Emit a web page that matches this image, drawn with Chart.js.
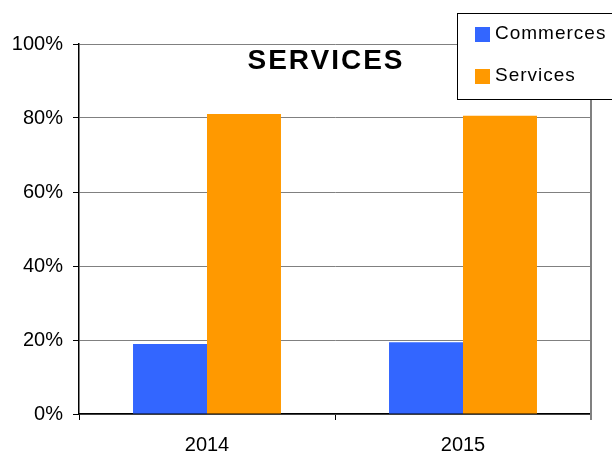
<!DOCTYPE html>
<html lang="fr">
<head>
  <meta charset="UTF-8" />
  <title>SERVICES</title>
  <script src="https://cdn.jsdelivr.net/npm/chart.js"></script>
  <style>
    body { margin: 0; background: #fff; }
    canvas { display: block; }
  </style>
</head>
<body>
  <canvas id="chart" width="612" height="455"></canvas>

  <script>
    const years = ['2014', '2015'];
    const commerces = [18.9, 19.4];
    const services = [81.1, 80.6];
    const yTicks = [0, 20, 40, 60, 80, 100];
    const chartTitle = 'SERVICES';

    const FONT = '"Liberation Sans", Arial, sans-serif';

    // title, right border and boxed legend drawn on top of the plot
    const extras = {
      id: 'extras',
      afterDraw(chart) {
        const ctx = chart.ctx;
        const a = chart.chartArea;
        ctx.save();

        ctx.strokeStyle = '#808080';
        ctx.lineWidth = 2;
        ctx.beginPath();
        ctx.moveTo(a.right, a.top);
        ctx.lineTo(a.right, a.bottom + 6);
        ctx.stroke();

        ctx.fillStyle = '#000';
        ctx.font = 'bold 28px ' + FONT;
        ctx.letterSpacing = '2px';
        ctx.textAlign = 'center';
        ctx.textBaseline = 'alphabetic';
        ctx.fillText(chartTitle, 326, 69);

        ctx.letterSpacing = '0px';
        ctx.fillStyle = '#fff';
        ctx.fillRect(457, 13, 170, 86);
        ctx.strokeStyle = '#000';
        ctx.lineWidth = 1;
        ctx.strokeRect(457.5, 13.5, 170, 86);

        ctx.font = '19px ' + FONT;
        ctx.letterSpacing = '1px';
        ctx.textAlign = 'left';
        chart.data.datasets.forEach((ds, i) => {
          const y = 27 + i * 42;
          ctx.fillStyle = ds.backgroundColor;
          ctx.fillRect(475, y, 15, 15);
          ctx.fillStyle = '#000';
          ctx.fillText(ds.label, 495, y + 12);
        });
        ctx.restore();
      }
    };

    new Chart(document.getElementById('chart').getContext('2d'), {
      type: 'bar',
      data: {
        labels: years,
        datasets: [
          { label: 'Commerces', data: commerces, backgroundColor: '#3366FF' },
          { label: 'Services', data: services, backgroundColor: '#FF9900' }
        ]
      },
      options: {
        responsive: false,
        animation: false,
        categoryPercentage: 0.578,
        barPercentage: 1,
        layout: { padding: { top: 44, right: 21, bottom: 0, left: 0 } },
        plugins: {
          legend: { display: false },
          title: { display: false },
          tooltip: { enabled: false }
        },
        scales: {
          x: {
            afterFit: s => { s.height = 41; },
            grid: {
              offset: true,
              drawOnChartArea: false,
              tickLength: 6,
              tickColor: '#000'
            },
            border: { color: '#000', width: 1.5 },
            ticks: { color: '#000', padding: 13, font: { family: FONT, size: 20 } }
          },
          y: {
            min: 0,
            max: 100,
            afterFit: s => { s.width = 79; },
            afterBuildTicks: s => { s.ticks = yTicks.map(v => ({ value: v })); },
            grid: { color: '#808080', lineWidth: 1, tickLength: 6, tickColor: '#000' },
            border: { color: '#000', width: 1.5 },
            ticks: {
              color: '#000',
              padding: 10,
              font: { family: FONT, size: 20 },
              callback: v => v + '%'
            }
          }
        }
      },
      plugins: [extras]
    });
  </script>
</body>
</html>
